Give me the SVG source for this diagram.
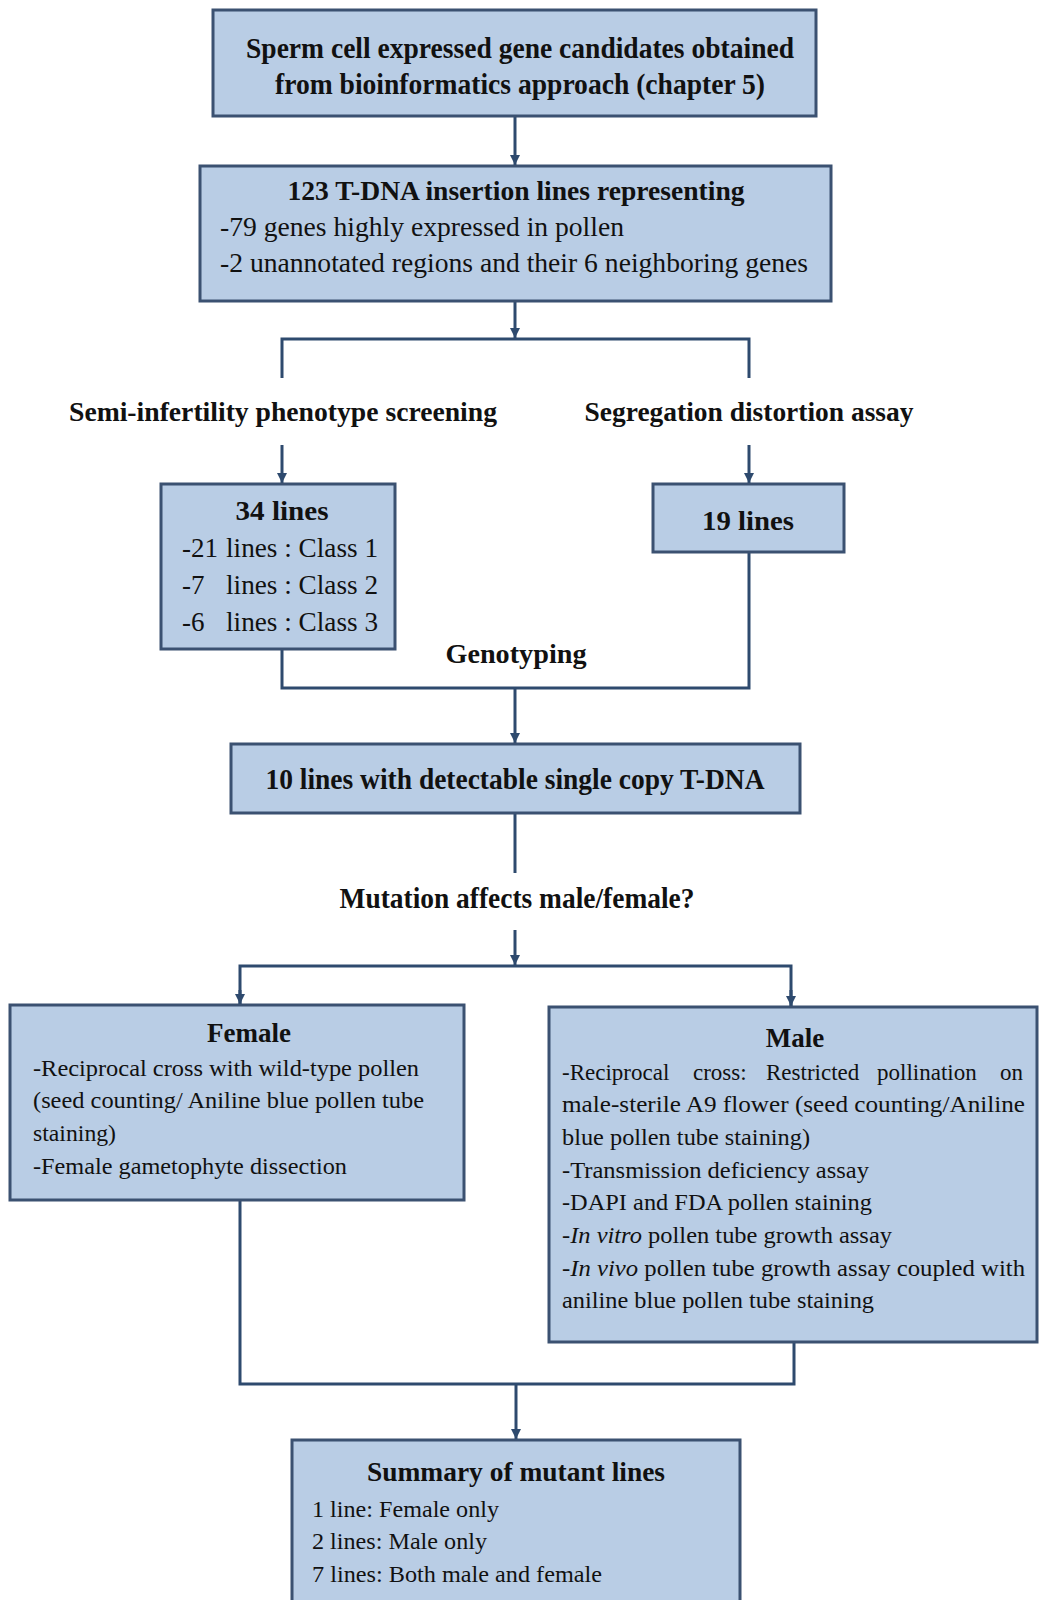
<svg xmlns="http://www.w3.org/2000/svg" width="1040" height="1600" viewBox="0 0 1040 1600">
<style>
.box{fill:#b9cde5;stroke:#3b5171;stroke-width:3}
.b{font-family:"Liberation Serif","Times New Roman",serif;font-weight:bold;font-size:27px;fill:#111}
.bl{font-size:30px}
.r{font-family:"Liberation Serif","Times New Roman",serif;font-size:27px;fill:#111}
.s{font-family:"Liberation Serif","Times New Roman",serif;font-size:23px;fill:#111}
.c{text-anchor:middle}
.ln{fill:none;stroke:#2e4a6e;stroke-width:3}
.i{font-style:italic}
</style>
<defs>
<marker id="ah" markerWidth="12" markerHeight="12" refX="10" refY="6" orient="auto" markerUnits="userSpaceOnUse">
<path d="M0,1 L10,6 L0,11 Z" fill="#2e4a6e"/>
</marker>
</defs>
<rect width="1040" height="1600" fill="#ffffff"/>

<g id="connectors">
<line class="ln" x1="515" y1="116" x2="515" y2="165" marker-end="url(#ah)"/>
<line class="ln" x1="515" y1="301" x2="515" y2="338" marker-end="url(#ah)"/>
<polyline class="ln" points="282,378 282,339 749,339 749,378"/>
<line class="ln" x1="282" y1="445" x2="282" y2="483" marker-end="url(#ah)"/>
<line class="ln" x1="749" y1="445" x2="749" y2="483" marker-end="url(#ah)"/>
<polyline class="ln" points="282,649 282,688 749,688 749,552"/>
<line class="ln" x1="515" y1="688" x2="515" y2="743" marker-end="url(#ah)"/>
<line class="ln" x1="515" y1="813" x2="515" y2="873"/>
<line class="ln" x1="515" y1="930" x2="515" y2="965" marker-end="url(#ah)"/>
<polyline class="ln" points="240,1004 240,966 791,966 791,1006"/>
<line class="ln" x1="240" y1="990" x2="240" y2="1004" marker-end="url(#ah)"/>
<line class="ln" x1="791" y1="990" x2="791" y2="1006" marker-end="url(#ah)"/>
<polyline class="ln" points="240,1200 240,1384 794,1384 794,1342"/>
<line class="ln" x1="516" y1="1384" x2="516" y2="1439" marker-end="url(#ah)"/>
</g>

<g id="n-candidates">
<rect class="box" x="213" y="10" width="603" height="106"/>
<text class="b bl c" x="520" y="58" textLength="548" lengthAdjust="spacingAndGlyphs">Sperm cell expressed gene candidates obtained</text>
<text class="b bl c" x="520" y="94" textLength="490" lengthAdjust="spacingAndGlyphs">from bioinformatics approach (chapter 5)</text>
</g>

<g id="n-tdna">
<rect class="box" x="200" y="166" width="631" height="135"/>
<text class="b c" x="516" y="200" font-size="28" textLength="457" lengthAdjust="spacingAndGlyphs">123 T-DNA insertion lines representing</text>
<text class="r" x="220" y="236" textLength="404" lengthAdjust="spacingAndGlyphs">-79 genes highly expressed in pollen</text>
<text class="r" x="220" y="272" textLength="588" lengthAdjust="spacingAndGlyphs">-2 unannotated regions and their 6 neighboring genes</text>
</g>

<g id="l-semi">
<text class="b c" x="283" y="421" font-size="28" textLength="428" lengthAdjust="spacingAndGlyphs">Semi-infertility phenotype screening</text>
</g>
<g id="l-seg">
<text class="b c" x="749" y="421" font-size="28" textLength="329" lengthAdjust="spacingAndGlyphs">Segregation distortion assay</text>
</g>

<g id="n-34lines">
<rect class="box" x="161" y="484" width="234" height="165"/>
<text class="b c" x="282" y="520" font-size="28" textLength="93" lengthAdjust="spacingAndGlyphs">34 lines</text>
<text class="r" x="182" y="557">-21</text>
<text class="r" x="226" y="557" textLength="152" lengthAdjust="spacingAndGlyphs">lines : Class 1</text>
<text class="r" x="182" y="594">-7</text>
<text class="r" x="226" y="594" textLength="152" lengthAdjust="spacingAndGlyphs">lines : Class 2</text>
<text class="r" x="182" y="631">-6</text>
<text class="r" x="226" y="631" textLength="152" lengthAdjust="spacingAndGlyphs">lines : Class 3</text>
</g>

<g id="n-19lines">
<rect class="box" x="653" y="484" width="191" height="68"/>
<text class="b c" x="748" y="530" font-size="28" textLength="92" lengthAdjust="spacingAndGlyphs">19 lines</text>
</g>

<g id="l-genotyping">
<text class="b c" x="516" y="663" font-size="28" textLength="141" lengthAdjust="spacingAndGlyphs">Genotyping</text>
</g>

<g id="n-10lines">
<rect class="box" x="231" y="744" width="569" height="69"/>
<text class="b bl c" x="515" y="789" textLength="499" lengthAdjust="spacingAndGlyphs">10 lines with detectable single copy T-DNA</text>
</g>

<g id="l-mutation">
<text class="b bl c" x="517" y="908" textLength="355" lengthAdjust="spacingAndGlyphs">Mutation affects male/female?</text>
</g>

<g id="n-female">
<rect class="box" x="10" y="1005" width="454" height="195"/>
<text class="b c" x="249" y="1042" font-size="28">Female</text>
<text class="s" x="33" y="1076" textLength="386" lengthAdjust="spacingAndGlyphs">-Reciprocal cross with wild-type pollen</text>
<text class="s" x="33" y="1108" textLength="391" lengthAdjust="spacingAndGlyphs">(seed counting/ Aniline blue pollen tube</text>
<text class="s" x="33" y="1141" textLength="83" lengthAdjust="spacingAndGlyphs">staining)</text>
<text class="s" x="33" y="1174" textLength="314" lengthAdjust="spacingAndGlyphs">-Female gametophyte dissection</text>
</g>

<g id="n-male">
<rect class="box" x="549" y="1007" width="488" height="335"/>
<text class="b c" x="795" y="1047" font-size="28">Male</text>
<text class="s" y="1080"><tspan x="562">-Reciprocal</tspan><tspan x="693">cross:</tspan><tspan x="766">Restricted</tspan><tspan x="877">pollination</tspan><tspan x="1000">on</tspan></text>
<text class="s" x="562" y="1112" textLength="463" lengthAdjust="spacingAndGlyphs">male-sterile A9 flower (seed counting/Aniline</text>
<text class="s" x="562" y="1145" textLength="248" lengthAdjust="spacingAndGlyphs">blue pollen tube staining)</text>
<text class="s" x="562" y="1178" textLength="307" lengthAdjust="spacingAndGlyphs">-Transmission deficiency assay</text>
<text class="s" x="562" y="1210" textLength="310" lengthAdjust="spacingAndGlyphs">-DAPI and FDA pollen staining</text>
<text class="s" x="562" y="1243" textLength="330" lengthAdjust="spacingAndGlyphs">-<tspan class="i">In vitro</tspan> pollen tube growth assay</text>
<text class="s" x="562" y="1276" textLength="463" lengthAdjust="spacingAndGlyphs">-<tspan class="i">In vivo</tspan> pollen tube growth assay coupled with</text>
<text class="s" x="562" y="1308" textLength="312" lengthAdjust="spacingAndGlyphs">aniline blue pollen tube staining</text>
</g>

<g id="n-summary">
<rect class="box" x="292" y="1440" width="448" height="170"/>
<text class="b c" x="516" y="1481" font-size="28" textLength="298" lengthAdjust="spacingAndGlyphs">Summary of mutant lines</text>
<text class="s" x="312" y="1517" textLength="187" lengthAdjust="spacingAndGlyphs">1 line: Female only</text>
<text class="s" x="312" y="1549" textLength="175" lengthAdjust="spacingAndGlyphs">2 lines: Male only</text>
<text class="s" x="312" y="1582" textLength="290" lengthAdjust="spacingAndGlyphs">7 lines: Both male and female</text>
</g>
</svg>
